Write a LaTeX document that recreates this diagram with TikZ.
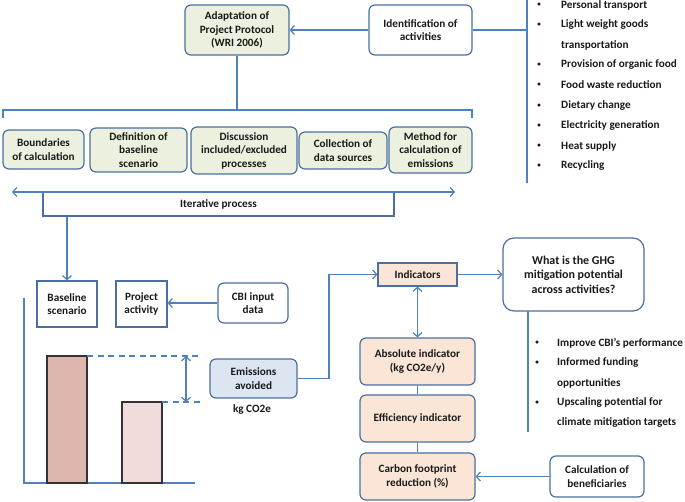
\documentclass[tikz,border=0pt]{standalone}
\usepackage{fontspec}
\setmainfont{Carlito}
\usetikzlibrary{arrows.meta}
\definecolor{bord}{HTML}{4A6FA0}
\definecolor{conncol}{HTML}{4F81BD}
\definecolor{grn}{HTML}{EBF1DE}
\definecolor{pch}{HTML}{FBE5D6}
\definecolor{lblue}{HTML}{DCE6F2}
\definecolor{barA}{HTML}{DDB6AD}
\definecolor{barB}{HTML}{F2DCDB}
\tikzset{
  box/.style={draw=bord, line width=1.2pt, rounded corners=6pt, align=center,
    font=\bfseries\fontsize{11.2}{13.5}\selectfont, inner sep=0pt, text=black!90},
  sqbox/.style={box, rounded corners=0pt},
  cline/.style={draw=conncol, line width=1.2pt},
  arr/.style={cline, -{Straight Barb[length=4pt,width=9pt]}},
  darr/.style={cline, {Straight Barb[length=4pt,width=9pt]}-{Straight Barb[length=4pt,width=9pt]}},
  bultxt/.style={font=\bfseries\fontsize{11.2}{12}\selectfont, anchor=west, inner sep=0pt, text=black!90},
  buldot/.style={font=\bfseries\fontsize{7}{8}\selectfont, inner sep=0pt, text=black!90},
  bar/.style={draw=black!80, line width=1.2pt},
}
\begin{document}
\begin{tikzpicture}[x=1pt,y=-1pt]
\useasboundingbox (0,0) rectangle (685,502);

% top row
\node[box, fill=grn, minimum width=104pt, minimum height=50pt] (adapt) at (237,30) {Adaptation of\\Project Protocol\\(WRI 2006)};
\node[box, minimum width=103pt, minimum height=50pt] (ident) at (420.5,30) {Identification of\\activities};
\draw[arr] (ident.west) -- (adapt.east);
\coordinate (vtop) at (527,0);
\coordinate (vbot) at (527,183);
\coordinate (vmid) at (527,30);
\draw[cline] (ident.east) -- (vmid);
\draw[cline] (vtop) -- (vbot);

% bullet list top right
\foreach \t/\yy [count=\i] in {Personal transport/5, Light weight goods/25, transportation/45, Provision of organic food/65, Food waste reduction/85, Dietary change/106, Electricity generation/126, Heat supply/146, Recycling/166}{
  \node[bultxt] (tb\i) at (561,\yy) {\t};
}
\foreach \yy [count=\i] in {5,25,65,85,106,126,146,166}{
  \node[buldot] (tbb\i) at (539,\yy) {•};
}

% bracket
\coordinate (brL) at (3,118);
\coordinate (brR) at (472,118);
\coordinate (brM) at (237,110);
\draw[cline] (adapt.south) -- (brM);
\draw[cline] (brL) -- (3,110) -- (472,110) -- (brR);

% row of steps
\node[box, fill=grn, minimum width=81pt, minimum height=39pt] (bound) at (43.5,149.5) {Boundaries\\of calculation};
\node[box, fill=grn, minimum width=97pt, minimum height=44pt] (defn) at (138.5,150) {Definition of\\baseline\\scenario};
\node[box, fill=grn, minimum width=106pt, minimum height=47pt] (disc) at (244,150.5) {Discussion\\included/excluded\\processes};
\node[box, fill=grn, minimum width=88pt, minimum height=37pt] (coll) at (343,150.5) {Collection of\\data sources};
\node[box, fill=grn, minimum width=83pt, minimum height=46pt] (meth) at (430.5,150) {Method for\\calculation of\\emissions};

% iterative
\node[sqbox, minimum width=351pt, minimum height=24pt] (iter) at (218.5,204) {Iterative process};
\coordinate (itL) at (12,192);
\coordinate (itR) at (455,192);
\draw[darr] (itL) -- (itR);

% baseline / project
\node[sqbox, minimum width=60pt, minimum height=46pt] (base) at (67,304) {Baseline\\scenario};
\node[sqbox, minimum width=51pt, minimum height=46pt] (proj) at (141.5,304) {Project\\activity};
\node[box, minimum width=70pt, minimum height=40pt] (cbi) at (253,303) {CBI input\\data};
\draw[arr] (base.north |- iter.south) -- (base.north);
\draw[arr] (cbi.west) -- (cbi.west -| proj.east);

% chart
\coordinate (axT) at (24,298);
\coordinate (axO) at (24,483);
\coordinate (axR) at (195,483);
\draw[cline] (axT) -- (axO) -- (axR);
\draw[bar, fill=barA] (47,356) rectangle (87,483);
\draw[bar, fill=barB] (122,402) rectangle (162,483);
\coordinate (dA) at (87,356);
\coordinate (dA2) at (200,356);
\coordinate (dB) at (162,402);
\coordinate (dB2) at (200,402);
\draw[cline, dash pattern=on 6pt off 4.5pt] (dA) -- (dA2);
\draw[cline, dash pattern=on 6pt off 4.5pt] (dB) -- (dB2);
\coordinate (vaT) at (186,356);
\coordinate (vaB) at (186,402);
\draw[darr] (vaT) -- (vaB);

\node[box, fill=lblue, minimum width=87pt, minimum height=39pt] (emis) at (253.5,378.5) {Emissions\\avoided};
\node[font=\bfseries\fontsize{11.2}{12}\selectfont, inner sep=0pt, text=black!90] (kg) at (252,410) {kg CO2e};

% indicators
\node[sqbox, fill=pch, minimum width=79pt, minimum height=23pt] (ind) at (417.5,274.5) {Indicators};
\coordinate (bendA) at (329,378.5);
\coordinate (bendB) at (329,274.5);
\draw[arr] (emis.east) -- (bendA) -- (bendB) -- (ind.west);

\node[box, rounded corners=11pt, minimum width=141pt, minimum height=73pt, font=\bfseries\fontsize{12}{14.5}\selectfont] (ghg) at (573.5,274.5) {What is the GHG\\mitigation potential\\across activities?};
\draw[arr] (ind.east) -- (ghg.west);
\coordinate (gvT) at (528,311);
\coordinate (gvB) at (528,432);
\draw[cline] (gvT) -- (gvB);

\foreach \t/\yy [count=\i] in {Improve CBI’s performance/343, Informed funding/363, opportunities/383, Upscaling potential for/403, climate mitigation targets/423}{
  \node[bultxt] (gb\i) at (557,\yy) {\t};
}
\foreach \yy [count=\i] in {343,363,403}{
  \node[buldot] (gbb\i) at (537,\yy) {•};
}

\node[box, fill=pch, minimum width=115pt, minimum height=47pt] (abs) at (417.5,361.5) {Absolute indicator\\(kg CO2e/y)};
\node[box, fill=pch, minimum width=115pt, minimum height=47pt] (eff) at (417.5,418.5) {Efficiency indicator};
\node[box, fill=pch, minimum width=115pt, minimum height=47pt] (carb) at (417.5,476.5) {Carbon footprint\\reduction (\%)};
\draw[darr] (ind.south) -- (abs.north);
\draw[cline] (abs.south) -- (eff.north);
\draw[cline] (eff.south) -- (carb.north);

\node[box, minimum width=94pt, minimum height=41pt] (calc) at (597,476.5) {Calculation of\\beneficiaries};
\draw[arr] (calc.west) -- (carb.east);
\end{tikzpicture}
\end{document}
